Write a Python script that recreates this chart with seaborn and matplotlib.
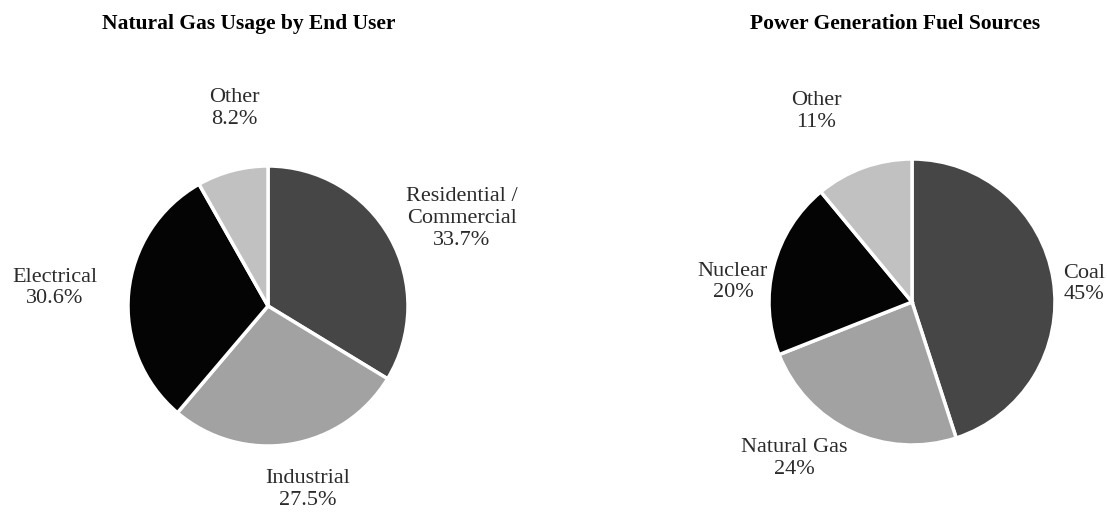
import numpy as np
import matplotlib.pyplot as plt
import seaborn as sns

sns.set_style("white")
plt.rcParams["font.family"] = ["Liberation Serif", "DejaVu Serif"]

# data
gas_labels = ["Residential /\nCommercial", "Industrial", "Electrical", "Other"]
gas_values = [33.7, 27.5, 30.6, 8.2]
gas_pct = ["33.7%", "27.5%", "30.6%", "8.2%"]

power_labels = ["Coal", "Natural Gas", "Nuclear", "Other"]
power_values = [45, 24, 20, 11]
power_pct = ["45%", "24%", "20%", "11%"]

colors = ["#464646", "#a2a2a2", "#040404", "#c1c1c1"]

# label placement: radial factor and angle nudge (deg) per wedge
gas_dist = [1.52, 1.34, 1.53, 1.43]
gas_nudge = [-5, 3, 0.6, -5]
power_dist = [1.21, 1.37, 1.26, 1.49]
power_nudge = [-3, -11.7, 8, 7]

W, H = 1107, 512
fig = plt.figure(figsize=(W / 100, H / 100), dpi=100)


def draw_pie(cx, cy, r, values, names, pcts, dists, nudges, title, tx):
    ax = fig.add_axes([(cx - r) / W, (H - cy - r) / H, 2 * r / W, 2 * r / H])
    wedges, _ = ax.pie(values, colors=colors, startangle=90, counterclock=False,
                       wedgeprops=dict(edgecolor="white", linewidth=2.5))
    ax.set_xlim(-1, 1)
    ax.set_ylim(-1, 1)
    ax.set_aspect("equal")
    ax.axis("off")
    for w, name, pct, d, n in zip(wedges, names, pcts, dists, nudges):
        ang = np.deg2rad((w.theta1 + w.theta2) / 2 + n)
        ax.text(d * np.cos(ang), d * np.sin(ang), f"{name}\n{pct}",
                ha="center", va="center", fontsize=16, color="#2b2b2b",
                linespacing=1.2, clip_on=False)
    fig.text(tx / W, 1 - 24 / H, title, ha="center", va="center",
             fontsize=15.5, fontweight="bold", color="black")


draw_pie(268, 306, 140, gas_values, gas_labels, gas_pct, gas_dist, gas_nudge,
         "Natural Gas Usage by End User", 249)
draw_pie(912, 302, 143, power_values, power_labels, power_pct, power_dist, power_nudge,
         "Power Generation Fuel Sources", 895)

fig.savefig("out.png", dpi=100)
